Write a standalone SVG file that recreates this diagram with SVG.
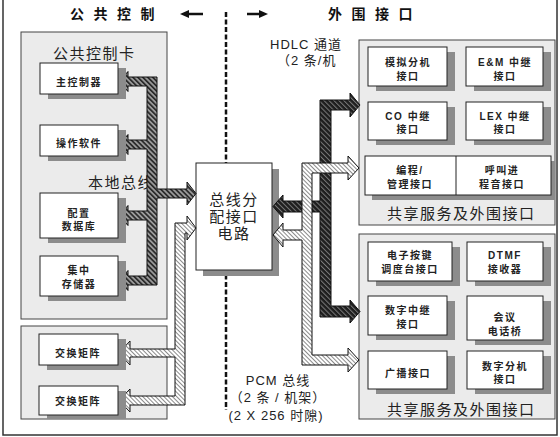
<svg xmlns="http://www.w3.org/2000/svg" width="560" height="437" viewBox="0 0 560 437">
<defs>
<style>
.frame{fill:none;stroke:#333;stroke-width:1.5}
.panel{fill:#ebebeb;stroke:#444;stroke-width:1}
.box{fill:#fff;stroke:#222;stroke-width:1}
.shadow{fill:#8c8c8c}
.t{font-family:'Liberation Sans','Noto Sans CJK SC',sans-serif;fill:#111}
.lbl{font-size:10px;font-weight:bold;text-anchor:middle;letter-spacing:1.5px;fill:#222}
.big{font-size:15px;letter-spacing:1.5px;fill:#222}
.head{font-size:14px;font-weight:bold;letter-spacing:9.5px}
.note{font-size:13px;letter-spacing:1px;fill:#222}
.pipe{stroke:#111;stroke-width:1;stroke-linejoin:miter}
</style>
<pattern id="hMid" width="3.5" height="3.5" patternUnits="userSpaceOnUse" patternTransform="rotate(-45)">
<rect width="3.5" height="3.5" fill="#9a9a9a"/><rect width="1.7" height="3.5" fill="#2a2a2a"/>
</pattern>
<pattern id="hDark" width="3.5" height="3.5" patternUnits="userSpaceOnUse" patternTransform="rotate(-45)">
<rect width="3.5" height="3.5" fill="#1e1e1e"/><rect width="1" height="3.5" fill="#7a7a7a"/>
</pattern>
<pattern id="hLight" width="3" height="3" patternUnits="userSpaceOnUse" patternTransform="rotate(-45)">
<rect width="3" height="3" fill="#fff"/><rect width="1" height="3" fill="#8a8a8a"/>
</pattern>
</defs>
<rect x="0" y="0" width="560" height="437" fill="#fff"/>
<rect class="frame" x="3" y="-2" width="554" height="437"/>

<g id="header">
<text class="t head" x="70" y="19">公共控制</text>
<text class="t head" x="328" y="19">外围接口</text>
<line x1="186" y1="14" x2="203" y2="14" stroke="#111" stroke-width="2.5"/>
<polygon points="180,14 189,10 189,18" fill="#111"/>
<line x1="247" y1="14" x2="262" y2="14" stroke="#111" stroke-width="2.5"/>
<polygon points="268,14 259,10 259,18" fill="#111"/>
<line x1="226" y1="12" x2="226" y2="410" stroke="#111" stroke-width="2.5" stroke-dasharray="5,2.5"/>
</g>

<g id="panel-common">
<rect class="panel" x="21" y="32" width="146" height="287"/>
<text class="t big" x="53" y="59">公共控制卡</text>
<text class="t big" x="88" y="188">本地总线</text>
</g>
<g id="panel-switch">
<rect class="panel" x="21" y="326" width="146" height="93"/>
</g>
<g id="panel-shared1">
<rect class="panel" x="359" y="40" width="196" height="185"/>
<text class="t big" x="387" y="219">共享服务及外围接口</text>
</g>
<g id="panel-shared2">
<rect class="panel" x="359" y="234" width="196" height="185"/>
<text class="t big" x="387" y="415">共享服务及外围接口</text>
</g>

<g id="bus-center">
<rect class="shadow" x="203" y="169" width="76" height="107"/>
<rect class="box" x="196" y="163" width="76" height="107"/>
<text class="t big" x="234" y="205" text-anchor="middle">总线分</text>
<text class="t big" x="234" y="222" text-anchor="middle">配接口</text>
<text class="t big" x="234" y="239" text-anchor="middle">电路</text>
</g>

<g id="connectors">
<path class="pipe" fill="url(#hMid)" d="M157,77 L157,189 L187,189 L187,182 L196,193.5 L187,205 L187,198 L157,198 L157,285 L128,285 L128,290.5 L119,280.5 L128,270.5 L128,276 L147,276 L147,220 L128,220 L128,225.5 L119,215.5 L128,205.5 L128,211 L147,211 L147,149 L128,149 L128,154.5 L119,144.5 L128,134.5 L128,140 L147,140 L147,86 L128,86 L128,91.5 L119,81.5 L128,71.5 L128,77 Z"/>
<path class="pipe" fill="url(#hLight)" d="M175,223 L187,223 L187,216 L196,228 L187,240 L187,233 L185,233 L185,405 L130,405 L130,412 L119,400.5 L130,389 L130,396 L175,396 L175,357 L130,357 L130,365 L119,353 L130,341 L130,349 L175,349 Z"/>
<path class="pipe" fill="url(#hDark)" d="M320,100 L350,100 L350,93 L360,105 L350,117 L350,110 L331,110 L331,306 L350,306 L350,300 L360,311.5 L350,323 L350,317 L320,317 L320,212 L283,212 L283,218 L273,206.5 L283,195 L283,201 L320,201 Z"/>
<path class="pipe" fill="url(#hLight)" d="M302,163 L348,163 L348,156 L359,168 L348,180 L348,173 L312,173 L312,355 L348,355 L348,348 L359,360 L348,372 L348,365 L302,365 L302,240 L283,240 L283,247 L273,235 L283,223 L283,230 L302,230 Z"/>
</g>

<g id="labels">
<text class="t note" x="270" y="49">HDLC 通道</text>
<text class="t note" x="277" y="65">（2 条/机</text>
<text class="t note" x="278" y="385" text-anchor="middle" letter-spacing="2">PCM 总线</text>
<text class="t note" x="278" y="402" text-anchor="middle" letter-spacing="2">（2 条 / 机架）</text>
<text class="t note" x="276" y="420" text-anchor="middle" letter-spacing="2">(2 X 256 时隙)</text>
</g>

<g id="main-ctrl">
<rect class="shadow" x="48" y="68" width="78" height="31"/>
<rect class="box" x="40" y="63" width="78" height="31"/>
<text class="t lbl" x="79" y="86">主控制器</text>
</g>
<g id="op-soft">
<rect class="shadow" x="48" y="130" width="78" height="31"/>
<rect class="box" x="40" y="125" width="78" height="31"/>
<text class="t lbl" x="79" y="147">操作软件</text>
</g>
<g id="config-db">
<rect class="shadow" x="48" y="198" width="78" height="45"/>
<rect class="box" x="40" y="193" width="78" height="45"/>
<text class="t lbl" x="79" y="217">配置</text>
<text class="t lbl" x="79" y="230">数据库</text>
</g>
<g id="central-store">
<rect class="shadow" x="48" y="261" width="78" height="40"/>
<rect class="box" x="40" y="256" width="78" height="40"/>
<text class="t lbl" x="79" y="274">集中</text>
<text class="t lbl" x="79" y="288">存储器</text>
</g>
<g id="switch1">
<rect class="shadow" x="47" y="339" width="79" height="31"/>
<rect class="box" x="39" y="334" width="79" height="31"/>
<text class="t lbl" x="78" y="357">交换矩阵</text>
</g>
<g id="switch2">
<rect class="shadow" x="47" y="391" width="79" height="28"/>
<rect class="box" x="39" y="386" width="79" height="29"/>
<text class="t lbl" x="78" y="405">交换矩阵</text>
</g>

<g id="analog-ext">
<rect class="shadow" x="376" y="52" width="79" height="39"/>
<rect class="box" x="368" y="47" width="79" height="39"/>
<text class="t lbl" x="408" y="66">模拟分机</text>
<text class="t lbl" x="408" y="80">接口</text>
</g>
<g id="em-trunk">
<rect class="shadow" x="474" y="52" width="77" height="39"/>
<rect class="box" x="466" y="47" width="77" height="39"/>
<text class="t lbl" x="505" y="66">E&amp;M 中继</text>
<text class="t lbl" x="505" y="80">接口</text>
</g>
<g id="co-trunk">
<rect class="shadow" x="376" y="107" width="79" height="38"/>
<rect class="box" x="368" y="102" width="79" height="38"/>
<text class="t lbl" x="408" y="120">CO 中继</text>
<text class="t lbl" x="408" y="133">接口</text>
</g>
<g id="lex-trunk">
<rect class="shadow" x="474" y="107" width="77" height="38"/>
<rect class="box" x="466" y="102" width="77" height="38"/>
<text class="t lbl" x="505" y="120">LEX 中继</text>
<text class="t lbl" x="505" y="133">接口</text>
</g>
<g id="prog-mgmt">
<rect class="shadow" x="372" y="161" width="183" height="39"/>
<rect class="box" x="365" y="156" width="186" height="39"/>
<line x1="456" y1="156" x2="456" y2="195" stroke="#222" stroke-width="1"/>
<text class="t lbl" x="410" y="174">编程/</text>
<text class="t lbl" x="410" y="188">管理接口</text>
<text class="t lbl" x="502" y="174">呼叫进</text>
<text class="t lbl" x="502" y="188">程音接口</text>
</g>

<g id="console">
<rect class="shadow" x="376" y="247" width="84" height="39"/>
<rect class="box" x="368" y="242" width="84" height="39"/>
<text class="t lbl" x="410" y="259">电子按键</text>
<text class="t lbl" x="410" y="273">调度台接口</text>
</g>
<g id="dtmf">
<rect class="shadow" x="475" y="247" width="76" height="39"/>
<rect class="box" x="467" y="242" width="76" height="39"/>
<text class="t lbl" x="505" y="259">DTMF</text>
<text class="t lbl" x="505" y="273">接收器</text>
</g>
<g id="digital-trunk">
<rect class="shadow" x="376" y="301" width="79" height="39"/>
<rect class="box" x="368" y="296" width="79" height="39"/>
<text class="t lbl" x="408" y="314">数字中继</text>
<text class="t lbl" x="408" y="328">接口</text>
</g>
<g id="conference">
<rect class="shadow" x="475" y="301" width="76" height="44"/>
<rect class="box" x="467" y="296" width="76" height="44"/>
<text class="t lbl" x="505" y="321">会议</text>
<text class="t lbl" x="505" y="335">电话桥</text>
</g>
<g id="broadcast">
<rect class="shadow" x="376" y="356" width="79" height="38"/>
<rect class="box" x="368" y="351" width="79" height="38"/>
<text class="t lbl" x="408" y="377">广播接口</text>
</g>
<g id="digital-ext">
<rect class="shadow" x="475" y="356" width="76" height="38"/>
<rect class="box" x="467" y="351" width="76" height="38"/>
<text class="t lbl" x="505" y="370">数字分机</text>
<text class="t lbl" x="505" y="383">接口</text>
</g>
</svg>
